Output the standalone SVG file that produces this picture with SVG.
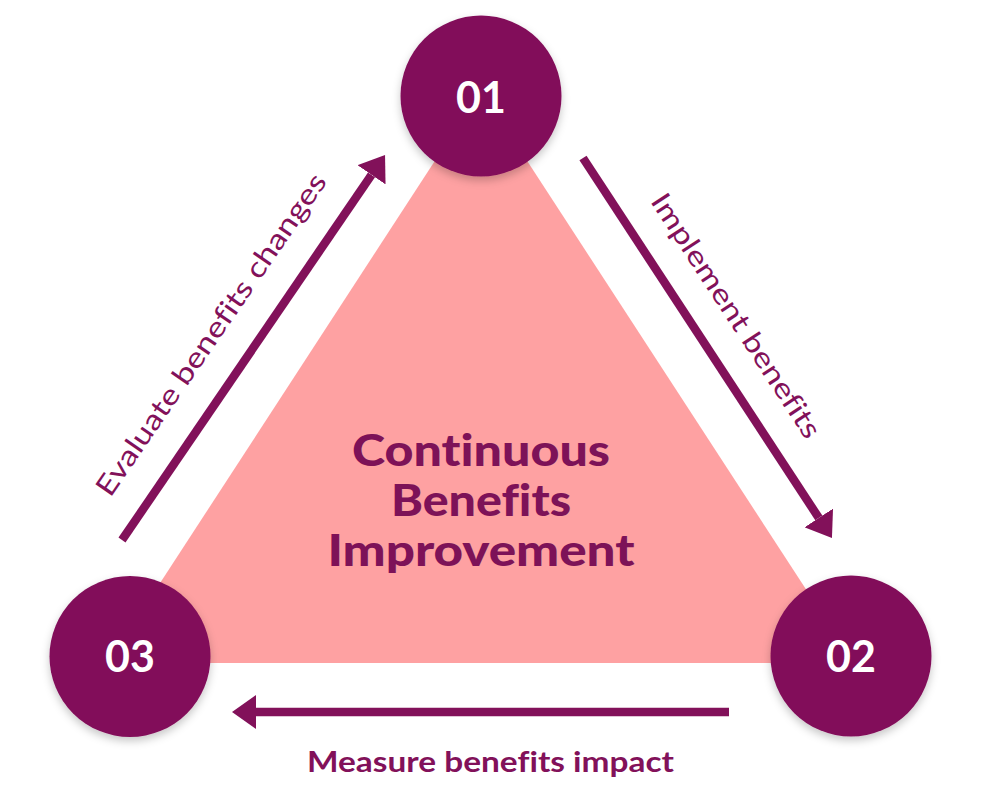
<svg xmlns="http://www.w3.org/2000/svg" width="982" height="800" viewBox="0 0 982 800">
  <defs>
    <style>
      text { font-variant-ligatures: none; }
      .node-circle { fill: #82115a; filter: url(#shadow); }
      .num { font-family: Lato, "Open Sans", "Liberation Sans", sans-serif; font-weight: 700; font-size: 43px; fill: #ffffff; text-anchor: middle; }
      .conn { stroke: #82115a; stroke-width: 8.5; fill: none; marker-end: url(#arrow); }
      .lbl { font-family: Lato, "Open Sans", "Liberation Sans", sans-serif; font-size: 28px; fill: #82115a; text-anchor: middle; }
      .center { font-family: Lato, "Open Sans", "Liberation Sans", sans-serif; font-weight: 900; font-size: 44px; fill: #7d1258; text-anchor: middle; }
    </style>
    <filter id="shadow" x="-20%" y="-20%" width="140%" height="150%">
      <feDropShadow dx="0" dy="4" stdDeviation="4" flood-color="#000000" flood-opacity="0.22"/>
    </filter>
    <marker id="arrow" viewBox="0 0 24 34" refX="0" refY="17" markerWidth="24" markerHeight="34" markerUnits="userSpaceOnUse" orient="auto">
      <path d="M0,0 L24,17 L0,34 Z" fill="#82115a"/>
    </marker>
  </defs>
  <rect width="982" height="800" fill="#ffffff"/>

  <g id="triangle">
    <polygon points="481,90 108,663 854,663" fill="#fea1a2"/>
    <text class="center" x="481" y="466" textLength="258" lengthAdjust="spacingAndGlyphs">Continuous</text>
    <text class="center" x="481" y="516" textLength="180" lengthAdjust="spacingAndGlyphs">Benefits</text>
    <text class="center" x="481" y="566" textLength="307" lengthAdjust="spacingAndGlyphs">Improvement</text>
  </g>

  <g id="connectors">
    <line class="conn" x1="583" y1="158" x2="818.8" y2="517.9"/>
    <line class="conn" x1="729" y1="712" x2="256" y2="712"/>
    <line class="conn" x1="122" y1="540" x2="371.5" y2="174.8"/>
    <text class="lbl" transform="translate(728,321) rotate(56.8)" textLength="286" lengthAdjust="spacingAndGlyphs">Implement benefits</text>
    <text class="lbl" x="490.5" y="772" style="font-weight:700" textLength="367" lengthAdjust="spacingAndGlyphs">Measure benefits impact</text>
    <text class="lbl" transform="translate(219,340) rotate(-55.5)" textLength="384" lengthAdjust="spacingAndGlyphs">Evaluate benefits changes</text>
  </g>

  <g id="node-01">
    <circle class="node-circle" cx="481" cy="96" r="80.5"/>
    <text class="num" x="481" y="112.5">01</text>
  </g>
  <g id="node-02">
    <circle class="node-circle" cx="851" cy="656" r="80.5"/>
    <text class="num" x="851" y="671.7">02</text>
  </g>
  <g id="node-03">
    <circle class="node-circle" cx="130" cy="656.5" r="80.5"/>
    <text class="num" x="130" y="672">03</text>
  </g>
</svg>
